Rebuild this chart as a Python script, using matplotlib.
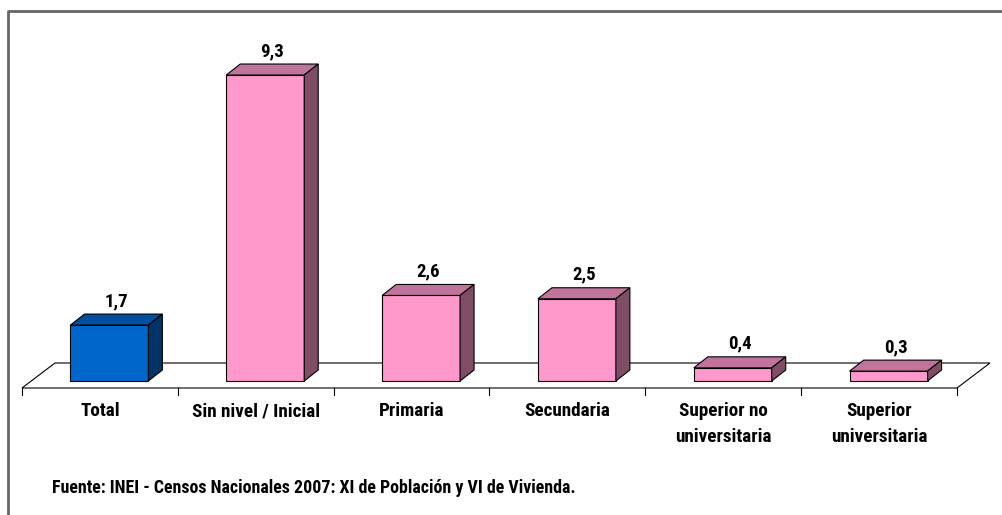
import matplotlib.pyplot as plt
from matplotlib.patches import Polygon
from matplotlib.lines import Line2D

categorias = ['Total', 'Sin nivel / Inicial', 'Primaria', 'Secundaria',
              'Superior no\nuniversitaria', 'Superior\nuniversitaria']
valores = [1.7, 9.3, 2.6, 2.5, 0.4, 0.3]
etiquetas = ['1,7', '9,3', '2,6', '2,5', '0,4', '0,3']
fuente = 'Fuente: INEI - Censos Nacionales 2007: XI de Población y VI de Vivienda.'

# colores (frente, tapa, lado)
azul = ('#0066CC', '#004E9E', '#003366')
rosa = ('#FF99CC', '#C0739B', '#804D66')
colores = [azul] + [rosa] * 5

FONT = ['Liberation Sans Narrow', 'Roboto Condensed', 'Liberation Sans', 'DejaVu Sans']

fig = plt.figure(figsize=(10.02, 5.15), dpi=100)
ax = fig.add_axes([22 / 1002, 127 / 515, 935 / 1002, 329 / 515])
ax.set_xlim(-0.5, 5.5)
ax.set_ylim(0, 10)
ax.axis('off')

# profundidad del piso y de las barras, en unidades de datos
px_x = 935 / 6
px_y = 329 / 10
piso_dx, piso_dy = 33 / px_x, 25 / px_y
barra_dx, barra_dy = 14 / px_x, 11 / px_y
off_x, off_y = (piso_dx - barra_dx) / 2, (piso_dy - barra_dy) / 2
ancho = 0.5
n = len(valores)

piso = Polygon([(-0.5, 0), (-0.5 + piso_dx, piso_dy), (n - 0.5 + piso_dx, piso_dy), (n - 0.5, 0)],
               closed=True, facecolor='white', edgecolor='black', lw=0.8, clip_on=False)
ax.add_patch(piso)

# marcas del eje
for k in range(n + 1):
    ax.add_line(Line2D([k - 0.5, k - 0.5], [0, -7 / px_y], color='black', lw=0.8, clip_on=False))

for i, (v, c) in enumerate(zip(valores, colores)):
    x0 = i - ancho / 2 + off_x
    y0 = off_y
    frente = [(x0, y0), (x0 + ancho, y0), (x0 + ancho, y0 + v), (x0, y0 + v)]
    tapa = [(x0, y0 + v), (x0 + ancho, y0 + v), (x0 + ancho + barra_dx, y0 + v + barra_dy),
            (x0 + barra_dx, y0 + v + barra_dy)]
    lado = [(x0 + ancho, y0), (x0 + ancho + barra_dx, y0 + barra_dy),
            (x0 + ancho + barra_dx, y0 + v + barra_dy), (x0 + ancho, y0 + v)]
    for pts, col in [(frente, c[0]), (tapa, c[1]), (lado, c[2])]:
        ax.add_patch(Polygon(pts, closed=True, facecolor=col, edgecolor='black', lw=0.8,
                             joinstyle='miter', clip_on=False))
    ax.text(i + off_x + barra_dx / 2, y0 + v + barra_dy + 4 / px_y, etiquetas[i],
            ha='center', va='bottom', fontsize=13.5, fontweight='bold', family=FONT)

for i, cat in enumerate(categorias):
    ax.text(i, -14 / px_y, cat, ha='center', va='top', fontsize=13.8, fontweight='bold',
            family=FONT, linespacing=1.6)

fig.text(52 / 1002, 1 - 488 / 515, fuente, ha='left', va='center', fontsize=12.9,
         fontweight='bold', family=FONT)

# marco
fig.add_artist(Line2D([8 / 1002, 8 / 1002, 1], [0, 1 - 11 / 515, 1 - 11 / 515],
                      color='#666666', lw=2))

fig.savefig('out.png', dpi=100)
